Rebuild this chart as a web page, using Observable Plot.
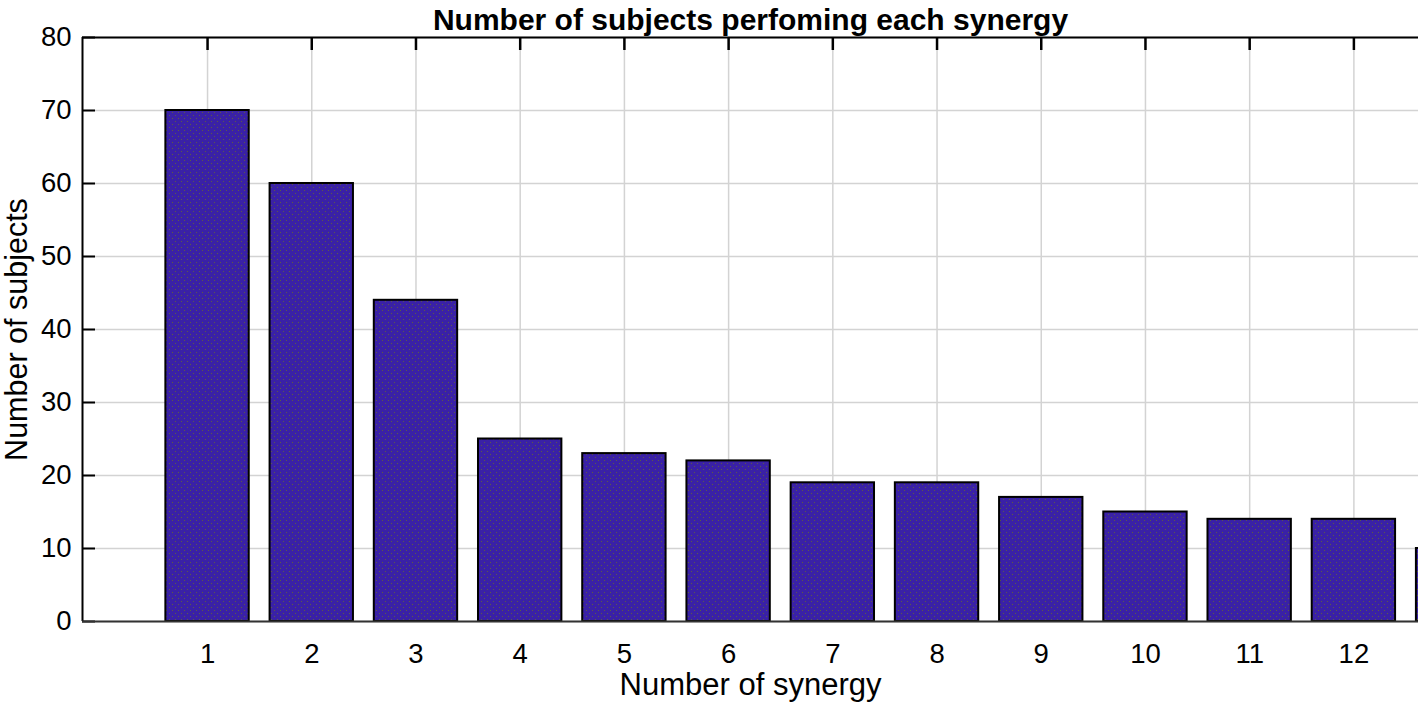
<!DOCTYPE html>
<html>
<head>
<meta charset="utf-8">
<script src="https://cdn.jsdelivr.net/npm/d3@7"></script>
<script src="https://cdn.jsdelivr.net/npm/@observablehq/plot@0.6"></script>
<style>
  html, body { margin: 0; padding: 0; background: #fff; }
  #chart { width: 1418px; height: 709px; overflow: hidden; }
</style>
</head>
<body>
<div id="chart"></div>
<script>
// Data
const synergy  = [1, 2, 3, 4, 5, 6, 7, 8, 9, 10, 11, 12, 13];
const subjects = [70, 60, 44, 25, 23, 22, 19, 19, 17, 15, 14, 14, 10];
const xTicks = [1, 2, 3, 4, 5, 6, 7, 8, 9, 10, 11, 12];
const yTicks = [0, 10, 20, 30, 40, 50, 60, 70, 80];
const titleText = "Number of subjects perfoming each synergy";
const xLabel = "Number of synergy";
const yLabel = "Number of subjects";

const data = synergy.map((n, i) => ({n, v: subjects[i]}));
const font = "'Liberation Sans', Arial, Helvetica, sans-serif";
const gridColor = "#d3d3d3";

const chart = Plot.plot({
  width: 1418,
  height: 709,
  marginLeft: 82,
  marginRight: 0,
  marginTop: 37,
  marginBottom: 88,
  style: {fontFamily: font, background: "#fff", color: "#000", overflow: "visible"},
  x: {domain: [-0.2, 12.62], label: null},
  y: {domain: [0, 80], label: null},
  marks: [
    Plot.gridY(yTicks, {stroke: gridColor, strokeOpacity: 1, strokeWidth: 1.5}),
    Plot.gridX(xTicks, {stroke: gridColor, strokeOpacity: 1, strokeWidth: 1.5}),
    Plot.rectY(data, {
      x1: d => d.n - 0.4,
      x2: d => d.n + 0.4,
      y: "v",
      fill: "url(#stipple)",
      stroke: "#000",
      strokeWidth: 2,
      clip: true
    }),
    // inward tick marks
    Plot.tickY(yTicks, {y: d => d, stroke: "#000", strokeWidth: 2, insetRight: 1336 - 13}),
    Plot.tickX(xTicks, {x: d => d, stroke: "#000", strokeWidth: 2.5, insetBottom: 584 - 13}),
    // axis lines
    Plot.ruleX([-0.2], {stroke: "#000", strokeWidth: 2}),
    Plot.ruleY([80], {stroke: "#000", strokeWidth: 2}),
    Plot.ruleY([0], {stroke: "#333", strokeWidth: 2}),
    Plot.axisY(yTicks, {tickSize: 0, tickPadding: 11, fontSize: 27.5, label: null}),
    Plot.axisX(xTicks, {tickSize: 0, tickPadding: 22, fontSize: 27.5, label: null}),
    // title and axis labels
    Plot.text([titleText], {frameAnchor: "top", dy: -8, lineAnchor: "bottom", fontSize: 30, fontWeight: "bold", fill: "#000"}),
    Plot.text([xLabel], {frameAnchor: "bottom", dy: 73, lineAnchor: "bottom", fontSize: 31, fill: "#000"}),
    Plot.text([yLabel], {frameAnchor: "left", dx: -65, rotate: -90, textAnchor: "middle", lineAnchor: "middle", fontSize: 30.5, fill: "#000"})
  ]
});

// stipple pattern for the bars
const defs = d3.select(chart).insert("defs", ":first-child");
const pat = defs.append("pattern")
  .attr("id", "stipple")
  .attr("patternUnits", "userSpaceOnUse")
  .attr("width", 6).attr("height", 6);
pat.append("rect").attr("width", 6).attr("height", 6).attr("fill", "#3a21a6");
pat.append("rect").attr("x", 1).attr("y", 1).attr("width", 1).attr("height", 1).attr("fill", "#5e5c45");
pat.append("rect").attr("x", 4).attr("y", 4).attr("width", 1).attr("height", 1).attr("fill", "#5e5c45");

document.getElementById("chart").appendChild(chart);
</script>
</body>
</html>
